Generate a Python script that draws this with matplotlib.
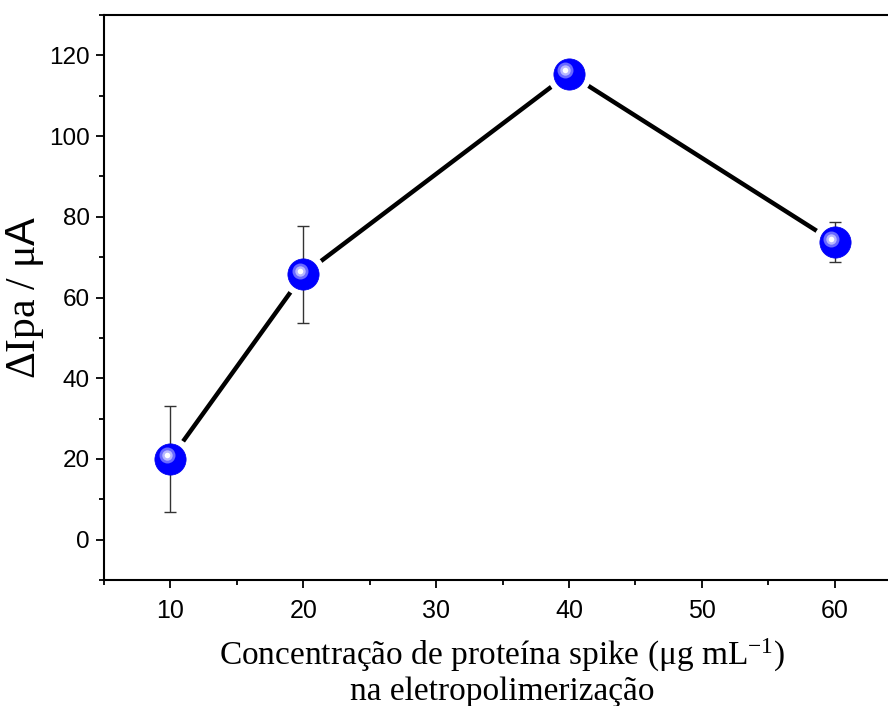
import numpy as np
import matplotlib
matplotlib.use("Agg")
import matplotlib.pyplot as plt
import matplotlib.transforms as mtransforms
from matplotlib.ticker import MultipleLocator

# data
conc = [10, 20, 40, 60]
dipa = [20.0, 65.7, 115.5, 73.7]
err = [13.2, 12.0, 3.0, 5.0]

plt.rcParams["mathtext.fontset"] = "custom"
plt.rcParams["mathtext.rm"] = "Liberation Serif"
plt.rcParams["mathtext.sf"] = "Liberation Sans"
plt.rcParams["mathtext.it"] = "Liberation Serif:italic"

fig = plt.figure(figsize=(8.88, 7.06), dpi=100)
ax = fig.add_axes([104 / 888, 126 / 706, 797 / 888, 565 / 706])

# connecting line, then white halos to make the gaps
ax.plot(conc, dipa, color="black", lw=3.2, zorder=1, solid_capstyle="butt")
ax.plot(conc, dipa, ls="none", marker="o", ms=32, mfc="white", mec="none", zorder=2)

# error bars
ax.errorbar(conc, dipa, yerr=err, fmt="none", ecolor="#333333", elinewidth=1.0,
            capsize=4.5, capthick=1.0, zorder=3)

# sphere markers
ax.plot(conc, dipa, ls="none", marker="o", ms=22.5, mfc="#0000ff", mec="#0000ee",
        mew=0.5, zorder=4)
off = mtransforms.ScaledTranslation(-3.5 / 100, 3.5 / 100, fig.dpi_scale_trans)
ax.plot(conc, dipa, ls="none", marker="o", ms=11.5, mfc="#6a6aff", mec="none",
        zorder=5, transform=ax.transData + off)
ax.plot(conc, dipa, ls="none", marker="o", ms=7.5, mfc="#b8b8ff", mec="none",
        zorder=6, transform=ax.transData + off)
ax.plot(conc, dipa, ls="none", marker="o", ms=4, mfc="white", mec="none",
        zorder=7, transform=ax.transData + off)

ax.set_xlim(5, 65)
ax.set_ylim(-10, 130)
ax.xaxis.set_major_locator(MultipleLocator(10))
ax.xaxis.set_minor_locator(MultipleLocator(5))
ax.yaxis.set_major_locator(MultipleLocator(20))
ax.yaxis.set_minor_locator(MultipleLocator(10))

for s in ax.spines.values():
    s.set_linewidth(1.5)
ax.spines["right"].set_visible(False)

ax.tick_params(which="both", direction="out", top=False, right=False, width=1.3)
ax.tick_params(which="major", length=6)
ax.tick_params(which="minor", length=3.5)
ax.tick_params(axis="y", labelsize=17.5, pad=4)
ax.tick_params(axis="x", labelsize=18, pad=8)
for lab in ax.get_xticklabels() + ax.get_yticklabels():
    lab.set_fontfamily("Liberation Sans")

ax.set_xlabel("Concentração de proteína spike (μg mL$^{\\mathrm{-1}}$)\nna eletropolimerização",
              fontfamily="Liberation Serif", fontsize=24, labelpad=10, linespacing=1.08)
ax.set_ylabel("$\\mathrm{ΔIpa\\ /\\ μ}\\mathsf{A}$", fontsize=30)
ax.yaxis.set_label_coords(-0.073, 0.5)

fig.savefig("out.png", dpi=100)
